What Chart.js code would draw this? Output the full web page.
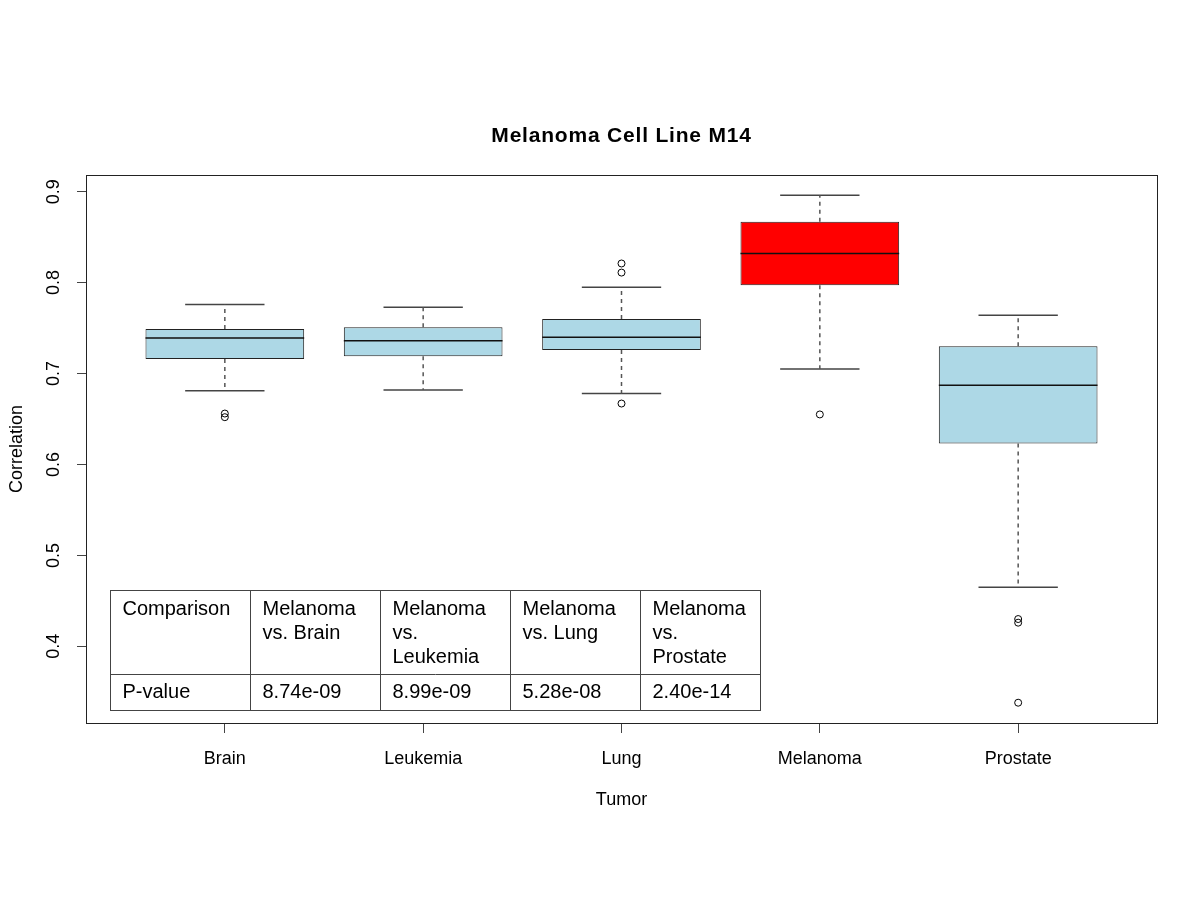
<!DOCTYPE html>
<html>
<head>
<meta charset="utf-8">
<title>Melanoma Cell Line M14</title>
<script src="https://cdn.jsdelivr.net/npm/chart.js@4/dist/chart.umd.min.js"></script>
<style>
  html, body { margin: 0; padding: 0; background: #fff; }
  canvas { display: block; }
</style>
</head>
<body>
<canvas id="boxChart" width="1200" height="900"></canvas>
<script>
// Box plot data
const categories = ['Brain', 'Leukemia', 'Lung', 'Melanoma', 'Prostate'];
const lowerWhisker = [0.681, 0.682, 0.678, 0.705, 0.465];
const quartile1 = [0.716, 0.719, 0.726, 0.797, 0.623];
const medians = [0.739, 0.736, 0.740, 0.832, 0.687];
const quartile3 = [0.749, 0.751, 0.760, 0.867, 0.730];
const upperWhisker = [0.776, 0.773, 0.795, 0.896, 0.764];
const outliers = [
    [0.656, 0.652],
    [],
    [0.821, 0.811, 0.667],
    [0.655],
    [0.430, 0.426, 0.338]
];
const boxColors = ['#ADD8E6', '#ADD8E6', '#ADD8E6', '#FF0000', '#ADD8E6'];
const yTicks = [0.4, 0.5, 0.6, 0.7, 0.8, 0.9];

// p-value table
const tableHeader = [
    ['Comparison'],
    ['Melanoma', 'vs. Brain'],
    ['Melanoma', 'vs.', 'Leukemia'],
    ['Melanoma', 'vs. Lung'],
    ['Melanoma', 'vs.', 'Prostate']
];
const tableValues = ['P-value', '8.74e-09', '8.99e-09', '5.28e-08', '2.40e-14'];

const FONT = 'Arial, "Liberation Sans", sans-serif';

// R-style limits: 4% padding around data range
const allVals = lowerWhisker.concat(upperWhisker, outliers.flat());
const dataMin = Math.min(...allVals);
const dataMax = Math.max(...allVals);
const yPad = (dataMax - dataMin) * 0.04;
const xPad = categories.length * 0.04;

// build line segments (null breaks the line)
function segments(pairs) {
    const pts = [];
    pairs.forEach(p => {
        pts.push({x: p[0], y: p[1]}, {x: p[2], y: p[3]}, {x: p[2], y: null});
    });
    return pts;
}

const medianLines = segments(categories.map((c, i) => [i + 0.6, medians[i], i + 1.4, medians[i]]));
const whiskerLines = segments(categories.map((c, i) => [i + 1, quartile3[i], i + 1, upperWhisker[i]])
    .concat(categories.map((c, i) => [i + 1, quartile1[i], i + 1, lowerWhisker[i]])));
const capLines = segments(categories.map((c, i) => [i + 0.8, upperWhisker[i], i + 1.2, upperWhisker[i]])
    .concat(categories.map((c, i) => [i + 0.8, lowerWhisker[i], i + 1.2, lowerWhisker[i]])));
const outlierPoints = [];
outliers.forEach((list, i) => list.forEach(v => outlierPoints.push({x: i + 1, y: v})));
const boxes = categories.map((c, i) => ({x: i + 1, y: [quartile1[i], quartile3[i]]}));

// title, frame and p-value table
const decorPlugin = {
    id: 'decor',
    afterDraw(chart) {
        const {ctx, chartArea: a} = chart;
        ctx.save();
        // plot frame
        ctx.strokeStyle = '#222';
        ctx.lineWidth = 1;
        ctx.strokeRect(a.left + 0.5, a.top + 0.5, a.right - a.left, a.bottom - a.top);

        // main title
        ctx.fillStyle = '#000';
        ctx.font = 'bold 21px ' + FONT;
        ctx.letterSpacing = '0.8px';
        ctx.textAlign = 'center';
        ctx.textBaseline = 'middle';
        ctx.fillText('Melanoma Cell Line M14', (a.left + a.right) / 2, 136);
        ctx.letterSpacing = '0px';

        // table
        const colW = [140, 130, 130, 130, 120];
        const tx = a.left + 24.5, ty = a.top + 415.5;
        const headH = 84, rowH = 36;
        const totalW = colW.reduce((s, w) => s + w, 0);
        ctx.strokeStyle = '#444';
        ctx.strokeRect(tx, ty, totalW, headH + rowH);
        ctx.beginPath();
        ctx.moveTo(tx, ty + headH);
        ctx.lineTo(tx + totalW, ty + headH);
        let cx = tx;
        colW.forEach((w, i) => {
            if (i > 0) {
                ctx.moveTo(cx, ty);
                ctx.lineTo(cx, ty + headH + rowH);
            }
            cx += w;
        });
        ctx.stroke();

        ctx.font = '20px ' + FONT;
        ctx.textAlign = 'left';
        ctx.textBaseline = 'middle';
        cx = tx;
        colW.forEach((w, i) => {
            tableHeader[i].forEach((line, j) => {
                ctx.fillText(line, cx + 12, ty + 19 + j * 24);
            });
            ctx.fillText(tableValues[i], cx + 12, ty + headH + 18);
            cx += w;
        });
        ctx.restore();
    }
};

new Chart(document.getElementById('boxChart'), {
    data: {
        datasets: [
            {
                type: 'line',
                data: medianLines,
                borderColor: '#111',
                borderWidth: 1.5,
                pointRadius: 0,
                fill: false
            },
            {
                type: 'scatter',
                data: outlierPoints,
                pointStyle: 'circle',
                pointRadius: 3.5,
                borderColor: '#000',
                borderWidth: 1,
                backgroundColor: 'rgba(0,0,0,0)'
            },
            {
                type: 'line',
                data: whiskerLines,
                borderColor: '#555',
                borderWidth: 1.5,
                borderDash: [4, 4],
                pointRadius: 0,
                fill: false
            },
            {
                type: 'line',
                data: capLines,
                borderColor: '#444',
                borderWidth: 1.5,
                pointRadius: 0,
                fill: false
            },
            {
                type: 'bar',
                data: boxes,
                backgroundColor: boxColors,
                borderColor: '#222',
                borderWidth: 1,
                borderSkipped: false,
                categoryPercentage: 1,
                barPercentage: 0.8
            }
        ]
    },
    options: {
        responsive: false,
        animation: false,
        layout: { padding: { top: 175, right: 43, left: 0, bottom: 0 } },
        plugins: {
            legend: { display: false },
            tooltip: { enabled: false },
            title: { display: false }
        },
        scales: {
            x: {
                type: 'linear',
                offset: false,
                min: 0.5 - xPad,
                max: categories.length + 0.5 + xPad,
                afterBuildTicks: scale => {
                    scale.ticks = categories.map((c, i) => ({value: i + 1}));
                },
                afterFit: scale => { scale.height = 177; },
                ticks: {
                    callback: (v) => categories[v - 1],
                    color: '#000',
                    font: { family: FONT, size: 18 },
                    padding: 15,
                    autoSkip: false,
                    maxRotation: 0
                },
                grid: {
                    offset: false,
                    drawOnChartArea: false,
                    drawTicks: true,
                    tickLength: 10,
                    color: '#444'
                },
                border: { display: false },
                title: {
                    display: true,
                    text: 'Tumor',
                    color: '#000',
                    font: { family: FONT, size: 18 },
                    padding: { top: 0, bottom: 89 }
                }
            },
            y: {
                type: 'linear',
                min: dataMin - yPad,
                max: dataMax + yPad,
                afterBuildTicks: scale => {
                    scale.ticks = yTicks.map(v => ({value: v}));
                },
                afterFit: scale => { scale.width = 86; },
                ticks: {
                    callback: (v) => v.toFixed(1),
                    color: '#000',
                    font: { family: FONT, size: 18 },
                    minRotation: 90,
                    maxRotation: 90,
                    crossAlign: 'center',
                    padding: 10
                },
                grid: {
                    drawOnChartArea: false,
                    drawTicks: true,
                    tickLength: 9,
                    color: '#444'
                },
                border: { display: false },
                title: {
                    display: true,
                    text: 'Correlation',
                    color: '#000',
                    font: { family: FONT, size: 18 },
                    padding: { top: 6, bottom: 0 }
                }
            }
        }
    },
    plugins: [decorPlugin]
});
</script>
</body>
</html>
